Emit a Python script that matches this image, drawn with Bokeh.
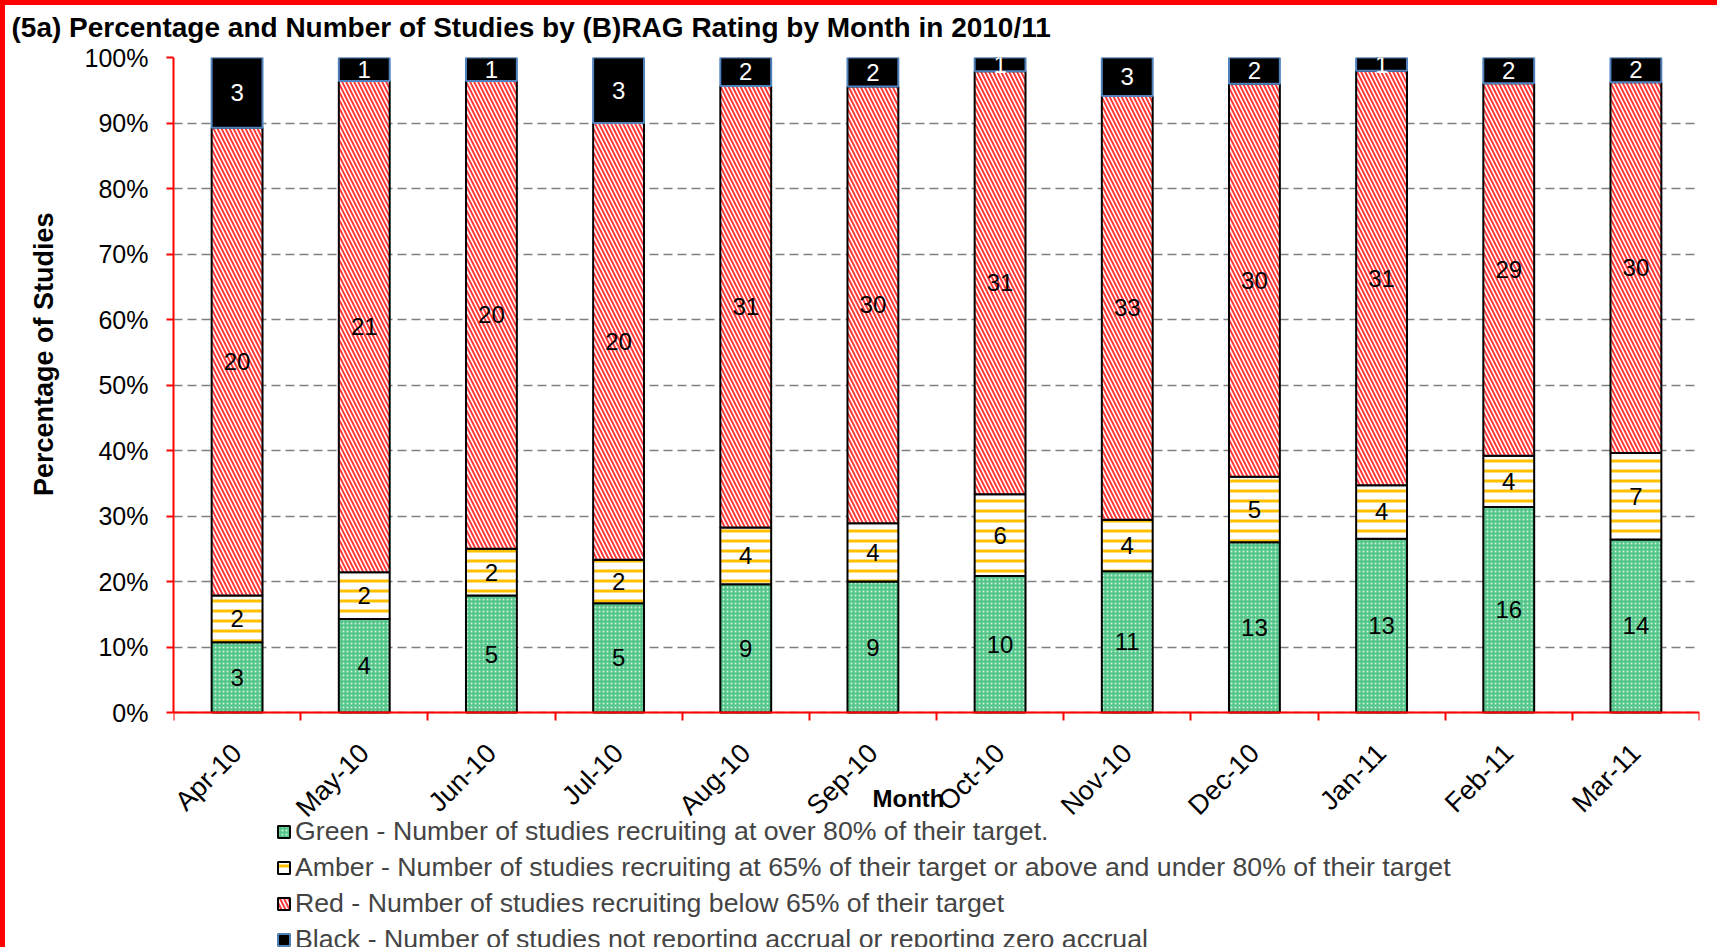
import numpy as np
from math import pi
from bokeh.plotting import figure
from bokeh.layouts import column
from bokeh.core.properties import value
from bokeh.models import (ColumnDataSource, Range1d, FixedTicker, NumeralTickFormatter,
                          LabelSet, Label, Legend, LegendItem, Title)
from bokeh.embed import file_html
from bokeh.resources import INLINE

# ---------------- data ----------------
months = ["Apr-10", "May-10", "Jun-10", "Jul-10", "Aug-10", "Sep-10",
          "Oct-10", "Nov-10", "Dec-10", "Jan-11", "Feb-11", "Mar-11"]
green = [3, 4, 5, 5, 9, 9, 10, 11, 13, 13, 16, 14]
amber = [2, 2, 2, 2, 4, 4, 6, 4, 5, 4, 4, 7]
red = [20, 21, 20, 20, 31, 30, 31, 33, 30, 31, 29, 30]
black = [3, 1, 1, 3, 2, 2, 1, 3, 2, 1, 2, 2]
legend_labels = [
    "Green - Number of studies recruiting at over 80% of their target.",
    "Amber - Number of studies recruiting at 65% of their target or above and under 80% of their target",
    "Red - Number of studies recruiting below 65% of their target",
    "Black - Number of studies not reporting accrual or reporting zero accrual",
]
title_text = "(5a) Percentage and Number of Studies by (B)RAG Rating by Month in 2010/11"
x_title = "Month"
y_title = "Percentage of Studies"
y_ticks = [0.0, 0.1, 0.2, 0.3, 0.4, 0.5, 0.6, 0.7, 0.8, 0.9, 1.0]

FONT = "Liberation Sans"

# ---------------- derived ----------------
g = np.array(green, dtype=float)
a = np.array(amber, dtype=float)
r = np.array(red, dtype=float)
b = np.array(black, dtype=float)
tot = g + a + r + b
c0 = np.zeros_like(tot)
c1 = g / tot
c2 = (g + a) / tot
c3 = (g + a + r) / tot
c4 = tot / tot
n = len(months)
xc = np.arange(n) + 0.5

src = ColumnDataSource(dict(x=xc, c0=c0, c1=c1, c2=c2, c3=c3, c4=c4))

# layout geometry (pixels): plot area 655 px tall for 0..100%, with room
# below it (inside the frame) for the rotated labels and the legend
FIG_W, FIG_H = 1712, 942
TOP, LEFT, RIGHT = 52, 168, 18
PLOT_H = 655
below_px = FIG_H - TOP - PLOT_H
y_lo = -below_px / PLOT_H

p = figure(width=FIG_W, height=FIG_H, x_range=Range1d(0, n), y_range=Range1d(y_lo, 1),
           output_backend="svg", toolbar_location=None,
           min_border_left=LEFT, min_border_right=RIGHT, min_border_top=TOP,
           min_border_bottom=0)

W = 0.40
rg = p.vbar(x="x", bottom="c0", top="c1", width=W, source=src,
            fill_color="#55C68A", hatch_pattern="dot", hatch_color="#D2F3DF",
            hatch_scale=4, hatch_weight=1.5, line_color="black", line_width=2)
ra = p.vbar(x="x", bottom="c1", top="c2", width=W, source=src,
            fill_color="white", hatch_pattern="horizontal_line", hatch_color="#FFC000",
            hatch_scale=10, hatch_weight=3, line_color="black", line_width=2)
rr = p.vbar(x="x", bottom="c2", top="c3", width=W, source=src,
            fill_color="white", hatch_pattern="left_diagonal_line", hatch_color="#FF3A3A",
            hatch_scale=8, hatch_weight=2, line_color="black", line_width=2)
rb = p.vbar(x="x", bottom="c3", top="c4", width=W, source=src,
            fill_color="black", line_color="#4F81BD", line_width=2)

# value labels
lx, ly, lt, lc = [], [], [], []
for vals, lo, hi, col in [(green, c0, c1, "black"), (amber, c1, c2, "black"),
                          (red, c2, c3, "black"), (black, c3, c4, "white")]:
    for i in range(n):
        lx.append(xc[i]); ly.append((lo[i] + hi[i]) / 2)
        lt.append(str(vals[i])); lc.append(col)
lsrc = ColumnDataSource(dict(x=lx, y=ly, t=lt, c=lc))
p.add_layout(LabelSet(x="x", y="y", text="t", source=lsrc, text_color="c",
                      text_align="center", text_baseline="middle",
                      text_font=value(FONT), text_font_size="24px"))

# x axis fixed at 0%
p.xaxis.fixed_location = 0
p.xaxis.ticker = FixedTicker(ticks=list(xc), minor_ticks=list(range(n + 1)))
p.xaxis.major_label_overrides = {float(x): m for x, m in zip(xc, months)}
p.xaxis.major_tick_line_color = None
p.xaxis.major_tick_out = 0
p.xaxis.minor_tick_line_color = "#FF0000"
p.xaxis.minor_tick_line_width = 2
p.xaxis.minor_tick_out = 8
p.xaxis.minor_tick_in = 0
p.xaxis.major_label_orientation = pi / 4
p.xaxis.major_label_standoff = 28
p.xaxis.major_label_text_font = FONT
p.xaxis.major_label_text_font_size = "27px"
p.xaxis.major_label_text_color = "black"
p.xaxis.axis_line_color = "#FF0000"
p.xaxis.axis_line_width = 2

p.yaxis.bounds = (0, 1)
p.yaxis.ticker = FixedTicker(ticks=y_ticks)
p.yaxis.formatter = NumeralTickFormatter(format="0%")
p.yaxis.major_tick_line_color = "#FF0000"
p.yaxis.major_tick_line_width = 2
p.yaxis.major_tick_out = 7
p.yaxis.major_tick_in = 0
p.yaxis.minor_tick_line_color = None
p.yaxis.major_label_standoff = 18
p.yaxis.major_label_text_font = FONT
p.yaxis.major_label_text_font_size = "25px"
p.yaxis.major_label_text_color = "black"
p.yaxis.axis_line_color = "#FF0000"
p.yaxis.axis_line_width = 2

p.xgrid.visible = False
p.ygrid.ticker = FixedTicker(ticks=y_ticks)
p.ygrid.grid_line_color = "#808080"
p.ygrid.grid_line_dash = "9 5"
p.ygrid.grid_line_width = 1.5
p.outline_line_color = None

# x axis title, overlapping the rotated labels as in the reference
p.add_layout(Label(x=5.78, y=-0.131, text=x_title, text_align="center",
                   text_baseline="middle", text_font=FONT, text_font_size="24px",
                   text_font_style="bold", text_color="black"))

# chart title (outermost) with a blank spacer between it and the plot area
p.title.text = title_text
p.title.text_font = FONT
p.title.text_font_size = "28px"
p.title.text_font_style = "bold"
p.title.text_color = "black"
p.title.align = "left"
p.title.offset = -162
p.title.standoff = 0
p.add_layout(Title(text=" ", text_font_size="1px", standoff=12), "above")

# y axis title, placed beside the 0-100% span
p.add_layout(Title(text=" ", text_font_size="1px", standoff=20), "left")
p.add_layout(Title(text=y_title, text_font=FONT, text_font_size="27px",
                   text_font_style="bold", text_color="black", align="right",
                   offset=155, standoff=0), "left")

# legend under the labels
items = [LegendItem(label=lab, renderers=[rend])
         for lab, rend in zip(legend_labels, [rg, ra, rr, rb])]
legend = Legend(items=items, location=(103, -8), orientation="vertical",
                label_text_font=FONT, label_text_font_size="26.7px",
                glyph_width=15, glyph_height=15, label_standoff=4,
                label_height=30, spacing=5, padding=0, margin=0,
                border_line_color=None, background_fill_alpha=0)
p.add_layout(legend, "center")

layout = column(p, styles={"border-top": "5px solid #FF0000",
                           "border-left": "5px solid #FF0000"})

open("out.html", "w").write(file_html(layout, INLINE))
